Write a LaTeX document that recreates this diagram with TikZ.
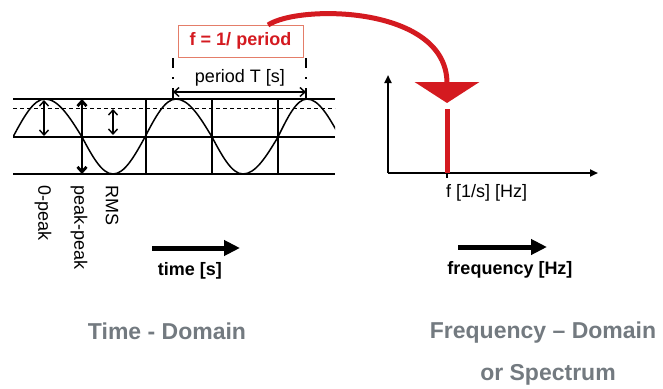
\documentclass[tikz,border=0pt]{standalone}
\usepackage{fontspec}
\setmainfont{Liberation Sans}
\usetikzlibrary{arrows.meta}
\definecolor{sred}{RGB}{212,26,32}
\definecolor{sbox}{RGB}{228,125,105}
\definecolor{dgrey}{RGB}{115,122,128}
\begin{document}
\begin{tikzpicture}[x=1pt,y=-1pt,
  gridline/.style={line width=1.6pt,black},
  thinarr/.style={line width=1.4pt,{Straight Barb[length=5pt,width=9pt]}-{Straight Barb[length=5pt,width=9pt]}},
  bigarrow/.style={line width=5pt,-{Triangle[length=16pt,width=15pt]}},
  axisline/.style={line width=2pt,-{Triangle[length=8pt,width=7pt]}},
  vlabel/.style={rotate=-90,anchor=west,inner sep=0pt,font=\fontsize{18}{20}\selectfont},
  boldlabel/.style={font=\bfseries\fontsize{18}{20}\selectfont,inner sep=0pt},
  title/.style={font=\bfseries\fontsize{23}{26}\selectfont,text=dgrey,inner sep=0pt,anchor=base},
  tickline/.style={line width=1.6pt,dash pattern=on 10pt off 9pt on 2pt off 9pt on 12pt}
]
\useasboundingbox (0,0) rectangle (663,388);

% ---------- time domain ----------
\draw[gridline] (13,99) -- (335,99);
\draw[gridline] (13,137) -- (335,137);
\draw[gridline] (13,174) -- (335,174);
\draw[line width=1pt,dash pattern=on 4pt off 3pt] (13,108) -- (335,108);

\foreach \x in {146,212,278} \draw[gridline] (\x,99) -- (\x,174);

\begin{scope}
  \clip (13,90) rectangle (335,180);
  \draw[line width=1.5pt] (13,137) sin (45,99) cos (82,137) sin (113,174) cos (145,137)
     sin (176,99) cos (212,137) sin (243,174) cos (278,137) sin (307,99) cos (340,137);
\end{scope}

% amplitude arrows
\coordinate (zp1) at (44,100);
\coordinate (zp2) at (44,136);
\draw[thinarr] (zp1) -- (zp2);
\coordinate (pp1) at (82,99);
\coordinate (pp2) at (82,174);
\draw[thinarr,line width=2.8pt] (pp1) -- (pp2);
\coordinate (rm1) at (113,109);
\coordinate (rm2) at (113,135);
\draw[thinarr] (rm1) -- (rm2);

\node[vlabel] (l0p) at (43,185) {0-peak};
\node[vlabel] (lpp) at (79,185) {peak-peak};
\node[vlabel] (lrms) at (112,185) {RMS};

% period
\coordinate (tk1a) at (173,58);
\coordinate (tk1b) at (173,99);
\coordinate (tk2a) at (306,58);
\coordinate (tk2b) at (306,99);
\draw[tickline] (tk1a) -- (tk1b);
\draw[tickline] (tk2a) -- (tk2b);
\draw[thinarr] (tk1a |- 0,92) -- (tk2a |- 0,92);
\node[font=\fontsize{18}{20}\selectfont,inner sep=0pt,anchor=base] (ptxt) at (240,82) {period T [s]};

% formula box
\node[draw=sbox,line width=1pt,minimum width=125pt,minimum height=32pt,inner sep=0pt,
      text=sred,font=\bfseries\fontsize{18}{20}\selectfont] (fbox) at (240.5,41) {f = 1/ period};

% time arrow
\coordinate (ta1) at (152,248);
\coordinate (ta2) at (240,248);
\draw[bigarrow] (ta1) -- (ta2);
\node[boldlabel,anchor=base] (ttxt) at (190,275) {time [s]};

% ---------- frequency domain ----------
\coordinate (O) at (388,173);
\coordinate (Ytop) at (388,75);
\coordinate (Xend) at (598,173);
\draw[axisline] (O) -- (Ytop);
\draw[axisline] (O) -- (Xend);
\coordinate (sb) at (447,173);
\coordinate (st) at (447,109);
\draw[line width=1.2pt] (sb) -- (447,178);
\draw[sred,line width=5pt] (sb) -- (st);
\node[font=\fontsize{18}{20}\selectfont,inner sep=0pt,anchor=base west] (ftxt) at (446,197) {f [1/s] [Hz]};

% red curved arrow
\coordinate (cs) at (268,25);
\coordinate (ctip) at (447,103);
\draw[sred,line width=5pt,-{Triangle[length=21pt,width=64pt]}] (cs) .. controls (300,4) and (447,6) .. (ctip);

% frequency arrow
\coordinate (fa1) at (458,247);
\coordinate (fa2) at (547,247);
\draw[bigarrow] (fa1) -- (fa2);
\node[boldlabel,anchor=base] (ftxt2) at (510,274) {frequency [Hz]};

% titles
\node[title] (t1) at (167,339) {Time - Domain};
\node[title] (t2) at (543,338) {Frequency – Domain};
\node[title] (t3) at (548,380) {or Spectrum};
\end{tikzpicture}
\end{document}
